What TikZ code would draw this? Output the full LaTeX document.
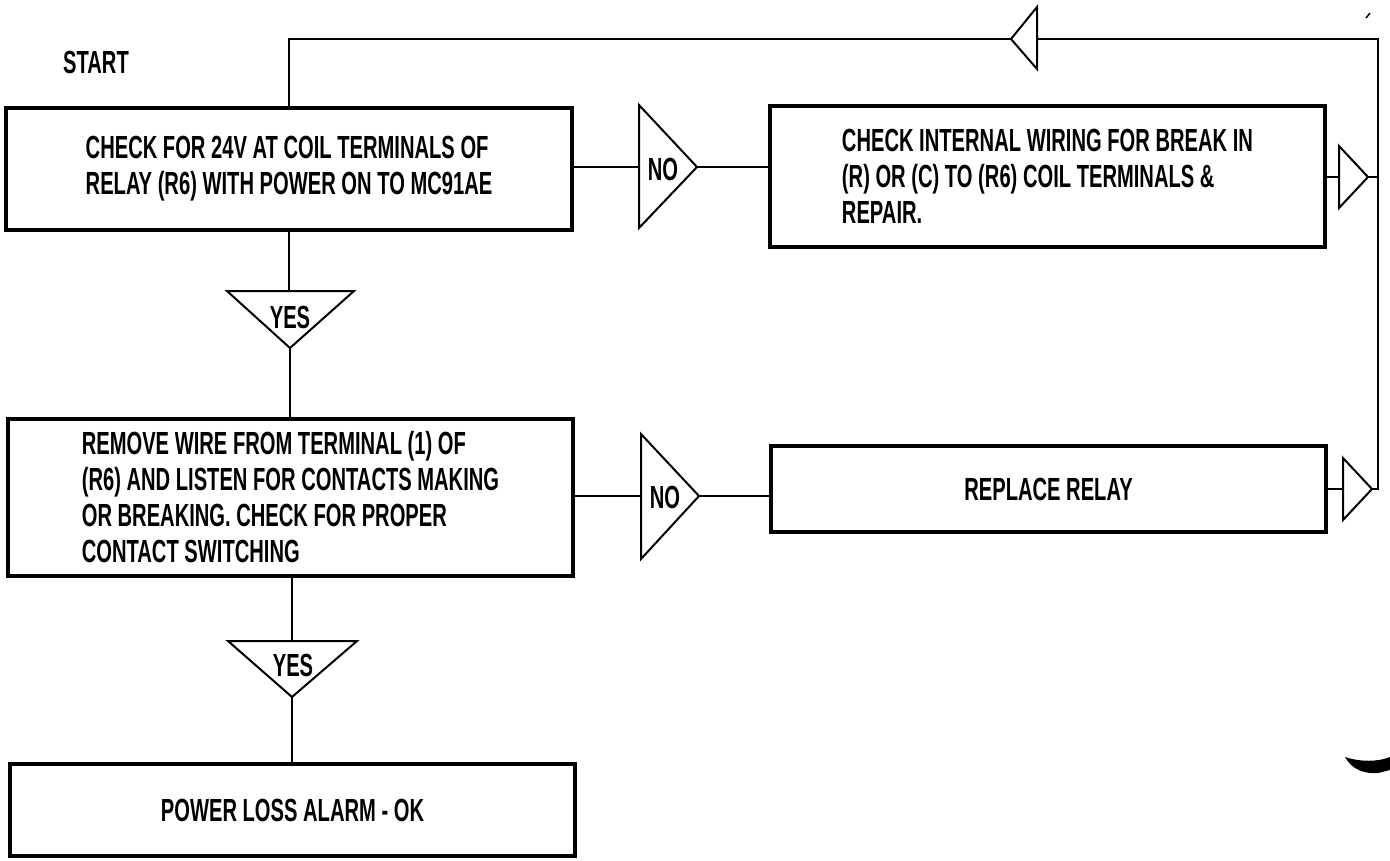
\documentclass[tikz,border=0pt]{standalone}
\usepackage{fontspec}
\newfontfamily\plotfont[FakeStretch=0.63]{Liberation Sans}
\begin{document}
\begin{tikzpicture}[x=1pt,y=-1pt,
  txt/.style={font=\plotfont\bfseries\fontsize{32}{36}\selectfont},
  box/.style={draw, line width=4pt, inner sep=0pt, align=left, txt},
  conn/.style={line width=2pt},
  tri/.style={line width=2pt, line join=miter},
  lbl/.style={inner sep=0pt, txt}]
\fill[white] (0,0) rectangle (1390,860);
\useasboundingbox (0,0) rectangle (1390,860);

% boxes
\node[box, minimum width=566pt, minimum height=122pt] (b1) at (289,169)
  {CHECK FOR 24V AT COIL TERMINALS OF\\RELAY (R6) WITH POWER ON TO MC91AE};
\node[box, minimum width=555pt, minimum height=141pt] (b2) at (1047.5,176.5)
  {CHECK INTERNAL WIRING FOR BREAK IN\\(R) OR (C) TO (R6) COIL TERMINALS \&\\REPAIR.};
\node[box, minimum width=565pt, minimum height=157pt] (b3) at (290.5,497.5)
  {REMOVE WIRE FROM TERMINAL (1) OF\\(R6) AND LISTEN FOR CONTACTS MAKING\\OR BREAKING. CHECK FOR PROPER\\CONTACT SWITCHING};
\node[box, minimum width=555pt, minimum height=86pt] (b4) at (1048.5,489) {REPLACE RELAY};
\node[box, minimum width=565pt, minimum height=92pt] (b5) at (292.5,810) {POWER LOSS ALARM - OK};

\node[lbl] (start) at (96,62) {START};

% triangle vertices
\coordinate (n1a) at (639,105); \coordinate (n1b) at (639,228);
\coordinate (n1t) at (697,167); \coordinate (n1in) at (639,167);
\coordinate (n2a) at (641,434); \coordinate (n2b) at (641,559);
\coordinate (n2t) at (699,496); \coordinate (n2in) at (641,496);
\coordinate (y1a) at (227,291); \coordinate (y1b) at (354,291);
\coordinate (y1t) at (290,348); \coordinate (y1in) at (290,291);
\coordinate (y2a) at (228,641); \coordinate (y2b) at (357,641);
\coordinate (y2t) at (292,697); \coordinate (y2in) at (292,641);
\coordinate (r1a) at (1339,146); \coordinate (r1b) at (1339,208);
\coordinate (r1t) at (1368,177); \coordinate (r1in) at (1339,177);
\coordinate (r2a) at (1343,458); \coordinate (r2b) at (1343,520);
\coordinate (r2t) at (1372,489); \coordinate (r2in) at (1343,489);
\coordinate (ta) at (1037,7); \coordinate (tb) at (1037,69);
\coordinate (tt) at (1011,39); \coordinate (tin) at (1037,39);
\coordinate (c1) at (1378,39); \coordinate (c2) at (1378,489);

% triangles
\draw[tri] (n1a) -- (n1t) -- (n1b) -- cycle;
\draw[tri] (n2a) -- (n2t) -- (n2b) -- cycle;
\draw[tri] (y1a) -- (y1b) -- (y1t) -- cycle;
\draw[tri] (y2a) -- (y2b) -- (y2t) -- cycle;
\draw[tri] (r1a) -- (r1t) -- (r1b) -- cycle;
\draw[tri] (r2a) -- (r2t) -- (r2b) -- cycle;
\draw[tri] (ta) -- (tt) -- (tb) -- cycle;

\node[lbl] (no1) at (663,169) {NO};
\node[lbl] (no2) at (665,497) {NO};
\node[lbl] (yes1) at (290,317) {YES};
\node[lbl] (yes2) at (293,665) {YES};

% connectors
\draw[conn] (n1in -| b1.east) -- (n1in);
\draw[conn] (n1t) -- (n1t -| b2.west);
\draw[conn] (n2in -| b3.east) -- (n2in);
\draw[conn] (n2t) -- (n2t -| b4.west);
\draw[conn] (b1.south) -- (b1.south |- y1in);
\draw[conn] (y1t) -- (y1t |- b3.north);
\draw[conn] (y2in |- b3.south) -- (y2in);
\draw[conn] (y2t) -- (y2t |- b5.north);
\draw[conn] (r1in -| b2.east) -- (r1in);
\draw[conn] (r2in -| b4.east) -- (r2in);
\draw[conn] (r1t) -- (r1t -| c1);
\draw[conn] (r2t) -- (c2) -- (c1) -- (tin);
\draw[conn] (tt) -- (tt -| b1.north) -- (b1.north);

% scan marks
\draw[line width=1.5pt] (1366,18) -- (1370,13);
\fill (1345,757) .. controls (1352,770) and (1365,774) .. (1378,773) -- (1390,770) -- (1390,757)
  .. controls (1378,762) and (1360,762) .. (1345,757) -- cycle;
\end{tikzpicture}
\end{document}
